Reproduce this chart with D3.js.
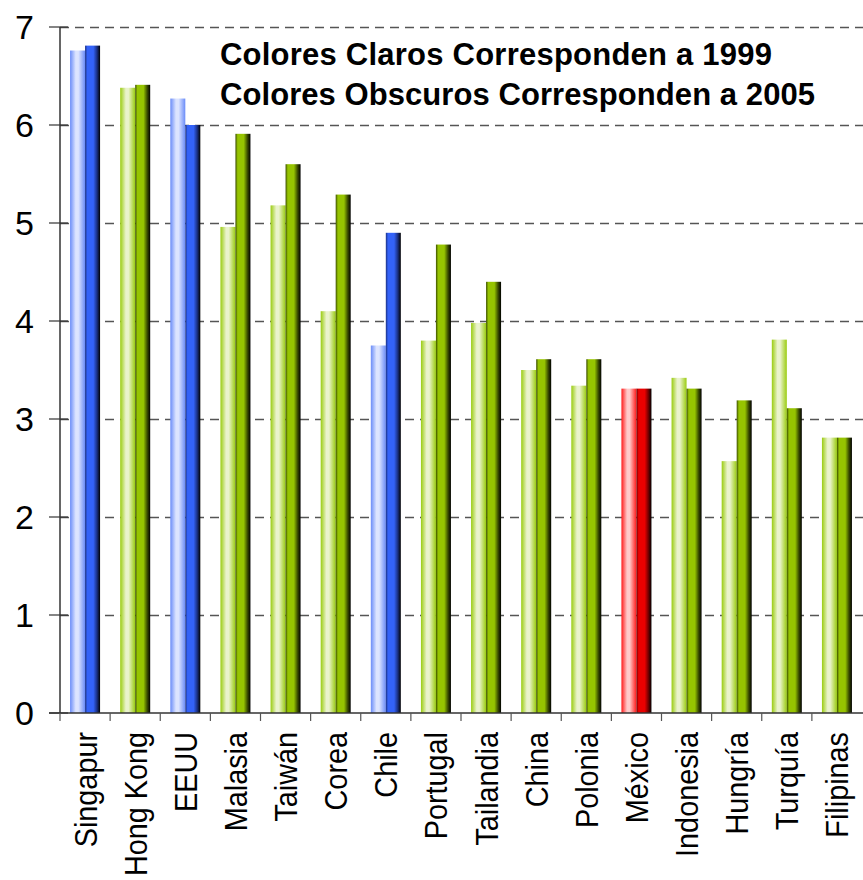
<!DOCTYPE html>
<html>
<head>
<meta charset="utf-8">
<script src="https://cdn.jsdelivr.net/npm/d3@7"></script>
<style>
  body { margin: 0; background: #fff; }
  #chart { width: 863px; height: 880px; }
  text { font-family: "Liberation Sans", Arial, sans-serif; fill: #000; }
</style>
</head>
<body>
<div id="chart"></div>
<script>
const countries = ["Singapur", "Hong Kong", "EEUU", "Malasia", "Taiwán", "Corea", "Chile", "Portugal",
  "Tailandia", "China", "Polonia", "México", "Indonesia", "Hungría", "Turquía", "Filipinas"];
const values1999 = [6.76, 6.38, 6.27, 4.96, 5.18, 4.10, 3.75, 3.80, 3.98, 3.50, 3.34, 3.31, 3.42, 2.57, 3.81, 2.81];
const values2005 = [6.81, 6.41, 6.00, 5.91, 5.60, 5.29, 4.90, 4.78, 4.40, 3.61, 3.61, 3.31, 3.31, 3.19, 3.11, 2.81];
const colorGroup = ["blue", "green", "blue", "green", "green", "green", "blue", "green",
  "green", "green", "green", "red", "green", "green", "green", "green"];
const yTicks = [0, 1, 2, 3, 4, 5, 6, 7];
const legendLines = ["Colores Claros Corresponden a 1999", "Colores Obscuros Corresponden a 2005"];

const palette = {
  blue: { edge: "#6a8cf8", pale: "#dce4ff", base: "#3362f8", deep: "#1a2f80" },
  green: { edge: "#9acc10", pale: "#eaf3cc", base: "#96c400", deep: "#3a4c00" },
  red: { edge: "#ff1a1a", pale: "#ffcaca", base: "#ea0000", deep: "#700000" }
};

const div = d3.select("#chart");
const width = 863, height = 880;
const margin = { left: 60, right: 1, top: 27, bottom: 167 };
const svg = div.append("svg").attr("width", width).attr("height", height);

const x = d3.scaleBand().domain(countries).range([margin.left, width - margin.right]).padding(0);
const y = d3.scaleLinear().domain([0, 7]).range([height - margin.bottom, margin.top]);
const barW = 15;

// gradients
const defs = svg.append("defs");
Object.entries(palette).forEach(([k, c]) => {
  const gl = defs.append("linearGradient").attr("id", `light-${k}`).attr("x1", 0).attr("x2", 1).attr("y1", 0).attr("y2", 0);
  [[0, c.edge], [0.38, c.pale], [0.55, c.pale], [1, c.edge]].forEach(([o, col]) =>
    gl.append("stop").attr("offset", o).attr("stop-color", col));
  const gd = defs.append("linearGradient").attr("id", `dark-${k}`).attr("x1", 0).attr("x2", 1).attr("y1", 0).attr("y2", 0);
  [[0, c.deep], [0.15, c.base], [0.55, c.base], [0.8, c.deep], [1, "#000"]].forEach(([o, col]) =>
    gd.append("stop").attr("offset", o).attr("stop-color", col));
});

// grid lines
svg.append("g").selectAll("line").data(yTicks.filter(d => d > 0)).join("line")
  .attr("x1", margin.left).attr("x2", width)
  .attr("y1", d => y(d) + 0.5).attr("y2", d => y(d) + 0.5)
  .attr("stroke", "#555").attr("stroke-width", 1.3).attr("stroke-dasharray", "9,6");

// bars
const bars = svg.append("g");
countries.forEach((c, i) => {
  const cx = x(c) + x.bandwidth() / 2;
  bars.append("rect")
    .attr("x", cx - barW).attr("width", barW)
    .attr("y", y(values1999[i])).attr("height", y(0) - y(values1999[i]))
    .attr("fill", `url(#light-${colorGroup[i]})`);
  bars.append("rect")
    .attr("x", cx).attr("width", barW)
    .attr("y", y(values2005[i])).attr("height", y(0) - y(values2005[i]))
    .attr("fill", `url(#dark-${colorGroup[i]})`);
});

// y axis
const yAxis = svg.append("g").attr("transform", `translate(${margin.left},0)`);
yAxis.append("line").attr("x1", 0).attr("x2", 0).attr("y1", y(7)).attr("y2", y(0)).attr("stroke", "#333").attr("stroke-width", 1.5);
yAxis.selectAll(".tick").data(yTicks).join("line")
  .attr("x1", -11).attr("x2", 8).attr("y1", d => y(d)).attr("y2", d => y(d))
  .attr("stroke", "#333").attr("stroke-width", 1.2);
yAxis.selectAll("text").data(yTicks).join("text")
  .attr("x", -26).attr("y", d => y(d)).attr("dy", "0.36em")
  .attr("text-anchor", "end").attr("font-size", "34px")
  .text(d => d);

// x axis
const xAxis = svg.append("g").attr("transform", `translate(0,${y(0)})`);
xAxis.append("line").attr("x1", margin.left - 11).attr("x2", width).attr("y1", 0).attr("y2", 0)
  .attr("stroke", "#333").attr("stroke-width", 1.5);
xAxis.selectAll(".tk").data(countries).join("line").attr("class", "tk")
  .attr("x1", d => x(d)).attr("x2", d => x(d)).attr("y1", 0).attr("y2", 8)
  .attr("stroke", "#555").attr("stroke-width", 1.2);
xAxis.selectAll("text").data(countries).join("text")
  .attr("transform", d => `translate(${x(d) + x.bandwidth() / 2},19) rotate(-90) scale(0.9,1)`)
  .attr("dy", "0.36em").attr("text-anchor", "end").attr("font-size", "32px")
  .text(d => d);

// legend note
svg.append("g").selectAll("text").data(legendLines).join("text")
  .attr("x", 220).attr("y", (d, i) => 65 + i * 40)
  .attr("font-size", "31px").attr("font-weight", "bold")
  .attr("textLength", (d, i) => i === 0 ? 552 : 595).attr("lengthAdjust", "spacing")
  .text(d => d);
</script>
</body>
</html>
